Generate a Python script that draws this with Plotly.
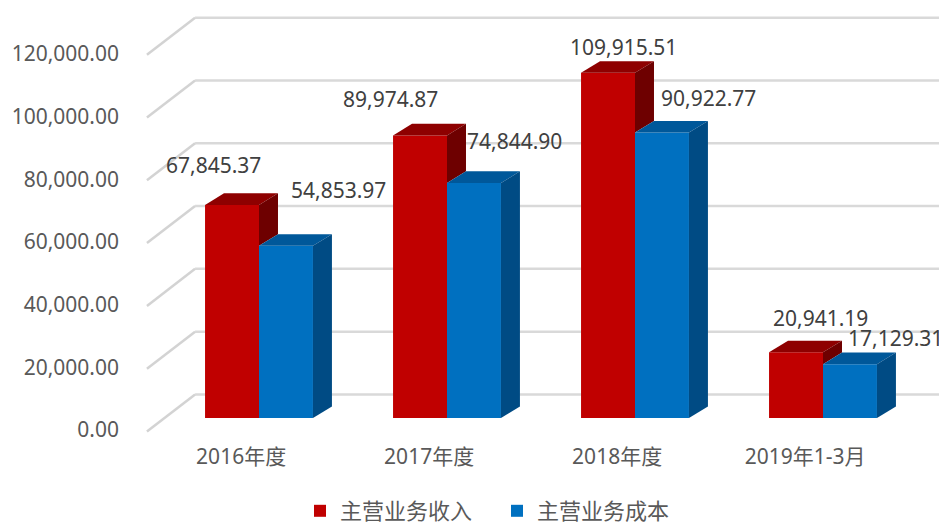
import plotly.graph_objects as go

# ---- data ----
categories = ["2016年度", "2017年度", "2018年度", "2019年1-3月"]
revenue = [67845.37, 89974.87, 109915.51, 20941.19]   # 主营业务收入
cost = [54853.97, 74844.90, 90922.77, 17129.31]       # 主营业务成本
series_names = ["主营业务收入", "主营业务成本"]
tick_values = [0, 20000, 40000, 60000, 80000, 100000, 120000]

# ---- style / geometry (layout only) ----
RED, RED_TOP, RED_SIDE = "#C00000", "#8E0000", "#6E0000"
BLUE, BLUE_TOP, BLUE_SIDE = "#0070C0", "#00589A", "#004B84"
GRID = "#D9D9D9"
FONT = "Noto Sans, Noto Sans CJK SC, sans-serif"
W = 0.287          # bar width (x units)
DX = 0.101         # 3D depth, x units
DY = 3700          # 3D depth, value units
BACK = 7500        # back wall offset, value units
DIAG_X0, DIAG_X1, DIAG_Y0 = -0.596, -0.340, -4300
# label pixel offsets (red, blue)
red_shift = [(-19, 40), (-30, 36), (15, 26), (24, 34)]
blue_shift = [(53, 56), (41, 42), (47, 35), (46, 26)]

idx = list(range(len(categories)))
fig = go.Figure()

# back-wall gridlines and left wall diagonals
gx, gy, dxs, dys = [], [], [], []
for v in tick_values:
    gx += [DIAG_X1, 3.8, None]
    gy += [v + BACK, v + BACK, None]
    dxs += [DIAG_X0, DIAG_X1, None]
    dys += [v + DIAG_Y0, v + BACK, None]
fig.add_trace(go.Scatter(x=gx, y=gy, mode="lines", line=dict(color=GRID, width=2.5),
                         showlegend=False, hoverinfo="skip", zorder=-2))
fig.add_trace(go.Scatter(x=dxs, y=dys, mode="lines", line=dict(color="#D3D3D3", width=2.5),
                         showlegend=False, hoverinfo="skip", zorder=-2))

# front faces
fig.add_trace(go.Bar(x=idx, y=revenue, offset=-W, width=W, name=series_names[0],
                     marker=dict(color=RED, line=dict(width=0)), zorder=0))
fig.add_trace(go.Bar(x=idx, y=cost, offset=0, width=W, name=series_names[1],
                     marker=dict(color=BLUE, line=dict(width=0)), zorder=0))


def poly(xs, ys, color):
    fig.add_trace(go.Scatter(x=xs + [xs[0]], y=ys + [ys[0]], mode="lines", fill="toself",
                             fillcolor=color, line=dict(width=0, color=color),
                             showlegend=False, hoverinfo="skip", zorder=1))


for i in idx:
    r, b = revenue[i], cost[i]
    x0, x1, x2 = i - W, i, i + W
    # red top
    poly([x0, x1, x1 + DX, x0 + DX], [r, r, r + DY, r + DY], RED_TOP)
    # red side (visible part above blue)
    poly([x1, x1, x1 + DX, x1 + DX], [b, r, r + DY, b + DY], RED_SIDE)
    # blue top
    poly([x1, x2, x2 + DX, x1 + DX], [b, b, b + DY, b + DY], BLUE_TOP)
    # blue side
    poly([x2, x2, x2 + DX, x2 + DX], [0, b, b + DY, DY], BLUE_SIDE)

# data labels
for i in idx:
    fig.add_annotation(x=i - W / 2, y=revenue[i], xref="x", yref="y",
                       text=f"{revenue[i]:,.2f}", showarrow=False,
                       xshift=red_shift[i][0], yshift=red_shift[i][1],
                       font=dict(family=FONT, size=21, color="#404040"))
    fig.add_annotation(x=i + W / 2, y=cost[i], xref="x", yref="y",
                       text=f"{cost[i]:,.2f}", showarrow=False,
                       xshift=blue_shift[i][0], yshift=blue_shift[i][1],
                       font=dict(family=FONT, size=21, color="#404040"))

# invisible trace to activate the tick axis
fig.add_trace(go.Scatter(x=[0], y=[0], yaxis="y2", mode="markers",
                         marker=dict(opacity=0), showlegend=False, hoverinfo="skip"))

k = 0.00314
PH = 429  # plot area height in px
fig.update_layout(
    width=947, height=526,
    margin=dict(l=115, r=0, t=0, b=526 - PH, autoexpand=False),
    paper_bgcolor="white", plot_bgcolor="rgba(0,0,0,0)",
    barmode="overlay",
    font=dict(family=FONT, color="#595959"),
    xaxis=dict(range=[(115 - 251) / 188, (947 - 251) / 188], automargin=False,
               tickvals=[i - 0.095 for i in idx], ticktext=categories,
               showgrid=False, zeroline=False, showline=False, ticks="",
               ticklabelstandoff=5,
               tickfont=dict(family=FONT, size=21, color="#595959")),
    yaxis=dict(range=[-(PH - 410) / k, 410 / k], showgrid=False, zeroline=False,
               automargin=False, showticklabels=False, ticks="", showline=False),
    yaxis2=dict(overlaying="y", side="left", range=[-(PH - 422) / 0.003135, 422 / 0.003135],
                tickvals=tick_values, tickformat=",.2f", showgrid=False, zeroline=False,
                automargin=False,
                ticks="", showline=False, ticklabelstandoff=3,
                tickfont=dict(family=FONT, size=21, color="#595959")),
    legend=dict(orientation="h", x=(292 - 115) / 832, xanchor="left",
                y=-(503 - PH) / PH, yanchor="middle",
                font=dict(family=FONT, size=22, color="#595959"),
                entrywidth=152, entrywidthmode="pixels",
                bgcolor="rgba(0,0,0,0)", itemclick=False),
    showlegend=True,
)

fig.write_html("out.html")
